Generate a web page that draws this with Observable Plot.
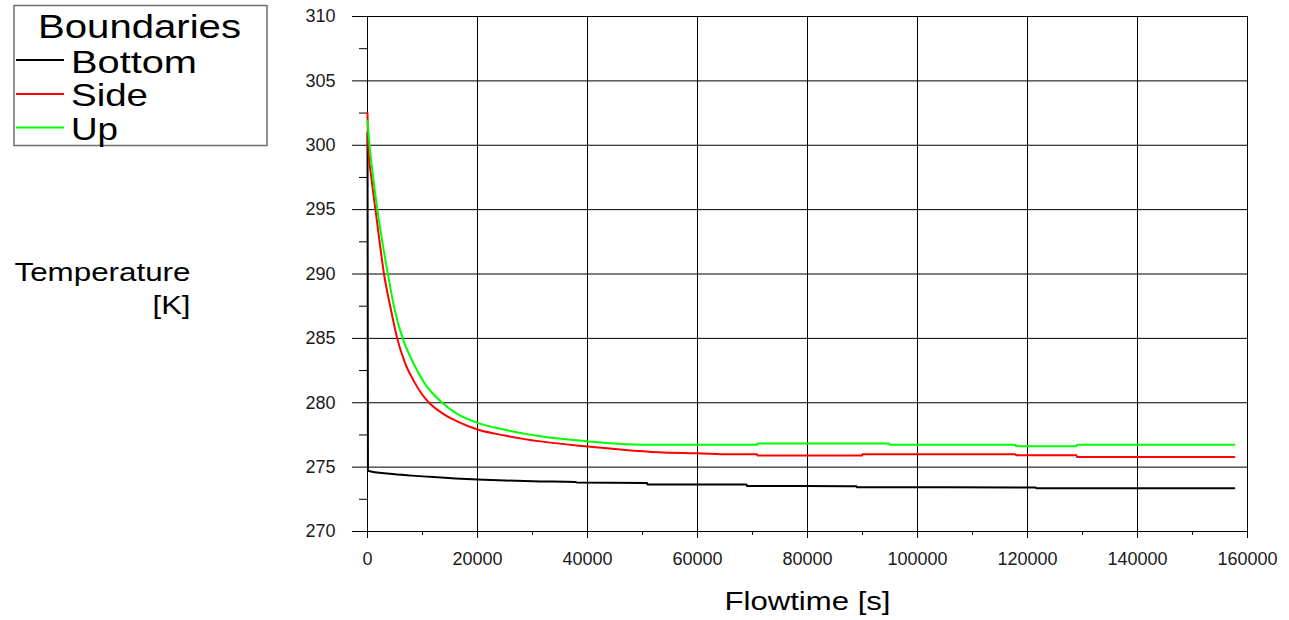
<!DOCTYPE html>
<html>
<head>
<meta charset="utf-8">
<script src="https://cdn.jsdelivr.net/npm/d3@7"></script>
<script src="https://cdn.jsdelivr.net/npm/@observablehq/plot@0.6"></script>
<style>
  html, body { margin: 0; padding: 0; background: #fff; }
  #wrap { position: relative; width: 1289px; height: 620px; overflow: hidden; }
  #legend { position: absolute; left: 0; top: 0; }
</style>
</head>
<body>
<div id="wrap"></div>
<script>
// ---- data ----
const seriesNames = ["Bottom", "Side", "Up"];
const seriesColors = ["#000000", "#ff0000", "#00ff00"];

const bottomTime = [0, 80, 4000, 8000, 12000, 16000, 20000, 25000, 30000, 37900, 38000, 50800, 50900, 68900, 69000, 88900, 89000, 121500, 121600, 157600];
const bottomTemp = [301.0, 274.72, 274.48, 274.34, 274.23, 274.12, 274.04, 273.96, 273.9, 273.85, 273.8, 273.76, 273.66, 273.66, 273.54, 273.52, 273.44, 273.42, 273.35, 273.35];

const sideTime = [0, 120, 700, 1450, 2200, 3000, 4180, 5400, 6900, 8400, 10000, 11200, 13900, 16600, 20000, 25000, 31450, 40000, 46000, 52900, 60000, 66000, 70800, 70900, 89900, 90000, 117800, 117900, 128900, 129000, 157600];
const sideTemp = [302.5, 300.0, 297.5, 295.0, 292.5, 290.0, 287.4, 285.0, 283.0, 281.7, 280.6, 280.0, 279.1, 278.5, 277.92, 277.45, 277.0, 276.6, 276.37, 276.16, 276.08, 276.0, 276.0, 275.9, 275.9, 276.0, 276.0, 275.93, 275.93, 275.78, 275.78];

const upTime = [0, 370, 1000, 1800, 2700, 3700, 4850, 6400, 8200, 10240, 13580, 16300, 20000, 25000, 31450, 40000, 46000, 53800, 70800, 70900, 94800, 94900, 117800, 117900, 128900, 129000, 157600];
const upTemp = [301.9, 300.0, 297.6, 295.0, 292.5, 290.0, 287.4, 285.0, 283.2, 281.6, 280.0, 279.14, 278.44, 277.9, 277.4, 277.0, 276.8, 276.73, 276.73, 276.83, 276.83, 276.73, 276.73, 276.63, 276.63, 276.73, 276.73];

const xTicks = [0, 20000, 40000, 60000, 80000, 100000, 120000, 140000, 160000];
const xMinorTicks = [10000, 30000, 50000, 70000, 90000, 110000, 130000, 150000];
const yTicks = [270, 275, 280, 285, 290, 295, 300, 305, 310];
const yMinorTicks = [272.5, 277.5, 282.5, 287.5, 292.5, 297.5, 302.5, 307.5];

const legendTitle = "Boundaries";
const xLabel = "Flowtime [s]";
const yLabelLines = ["Temperature", "[K]"];

// ---- build table ----
function toRows(name, ts, vs) { return ts.map((t, i) => ({series: name, t, T: vs[i]})); }
const rows = [
  ...toRows("Bottom", bottomTime, bottomTemp),
  ...toRows("Side", sideTime, sideTemp),
  ...toRows("Up", upTime, upTemp)
];

const font = "'Liberation Sans', Arial, Helvetica, sans-serif";

const chart = Plot.plot({
  width: 1289,
  height: 620,
  marginLeft: 367,
  marginRight: 42,
  marginTop: 16,
  marginBottom: 89,
  style: {fontFamily: font, fontSize: "18px", color: "#1a1a1a", background: "#fff", overflow: "visible"},
  x: {domain: [0, 160000]},
  y: {domain: [270, 310]},
  color: {domain: seriesNames, range: seriesColors},
  marks: [
    Plot.gridY(yTicks, {stroke: "#000", strokeOpacity: 1, strokeWidth: 1}),
    Plot.gridX(xTicks, {stroke: "#000", strokeOpacity: 1, strokeWidth: 1}),
    Plot.axisY(yTicks, {tickSize: 15, tickPadding: 17, stroke: "#000", strokeWidth: 1, label: null, fontSize: 18}),
    Plot.axisY(yMinorTicks, {tickSize: 8, text: null, stroke: "#000", label: null}),
    Plot.axisX(xTicks, {tickSize: 7, tickPadding: 14, stroke: "#000", label: null, fontSize: 18, tickFormat: d => String(d)}),
    Plot.axisX(xMinorTicks, {tickSize: 4, text: null, stroke: "#000", label: null}),
    Plot.line(rows, {x: "t", y: "T", z: "series", stroke: "series", strokeWidth: 2, curve: "monotone-x"}),
    Plot.text([xLabel], {frameAnchor: "bottom", dy: 70, fontSize: 26, fill: "#000", textAnchor: "middle", lineAnchor: "middle"}),
    Plot.text([yLabelLines[0]], {frameAnchor: "left", dx: -177, dy: -1.5, fontSize: 25, fill: "#000", textAnchor: "end", lineAnchor: "middle"}),
    Plot.text([yLabelLines[1]], {frameAnchor: "left", dx: -177, dy: 31.5, fontSize: 25, fill: "#000", textAnchor: "end", lineAnchor: "middle"})
  ]
});

document.getElementById("wrap").appendChild(chart);

// stretch the big labels horizontally like the reference
const stretch = {"Flowtime [s]": 166, "Temperature": 176, "[K]": 38};
d3.select(chart).selectAll("text").each(function () {
  const s = this.textContent;
  if (stretch[s] && this.childElementCount === 0) {
    this.setAttribute("textLength", stretch[s]);
    this.setAttribute("lengthAdjust", "spacingAndGlyphs");
  }
});

// ---- legend (overlay in the top-left margin) ----
const legend = d3.select("#wrap").append("svg")
  .attr("id", "legend").attr("width", 280).attr("height", 155)
  .style("font-family", font);
legend.append("rect").attr("x", 14).attr("y", 5.5).attr("width", 253).attr("height", 140)
  .attr("fill", "#fff").attr("stroke", "#6e6e6e").attr("stroke-width", 1.5);
legend.append("text").attr("x", 38).attr("y", 37.5).attr("font-size", 33)
  .attr("textLength", 203).attr("lengthAdjust", "spacingAndGlyphs").text(legendTitle);
const legY = [60, 94, 127.5];
const legBase = [72.5, 106, 139.5];
const legLen = [126, 77, 47];
seriesNames.forEach((name, i) => {
  legend.append("line").attr("x1", 16).attr("x2", 64).attr("y1", legY[i]).attr("y2", legY[i])
    .attr("stroke", seriesColors[i]).attr("stroke-width", 2);
  legend.append("text").attr("x", 71).attr("y", legBase[i]).attr("font-size", 32)
    .attr("textLength", legLen[i]).attr("lengthAdjust", "spacingAndGlyphs").text(name);
});
</script>
</body>
</html>
